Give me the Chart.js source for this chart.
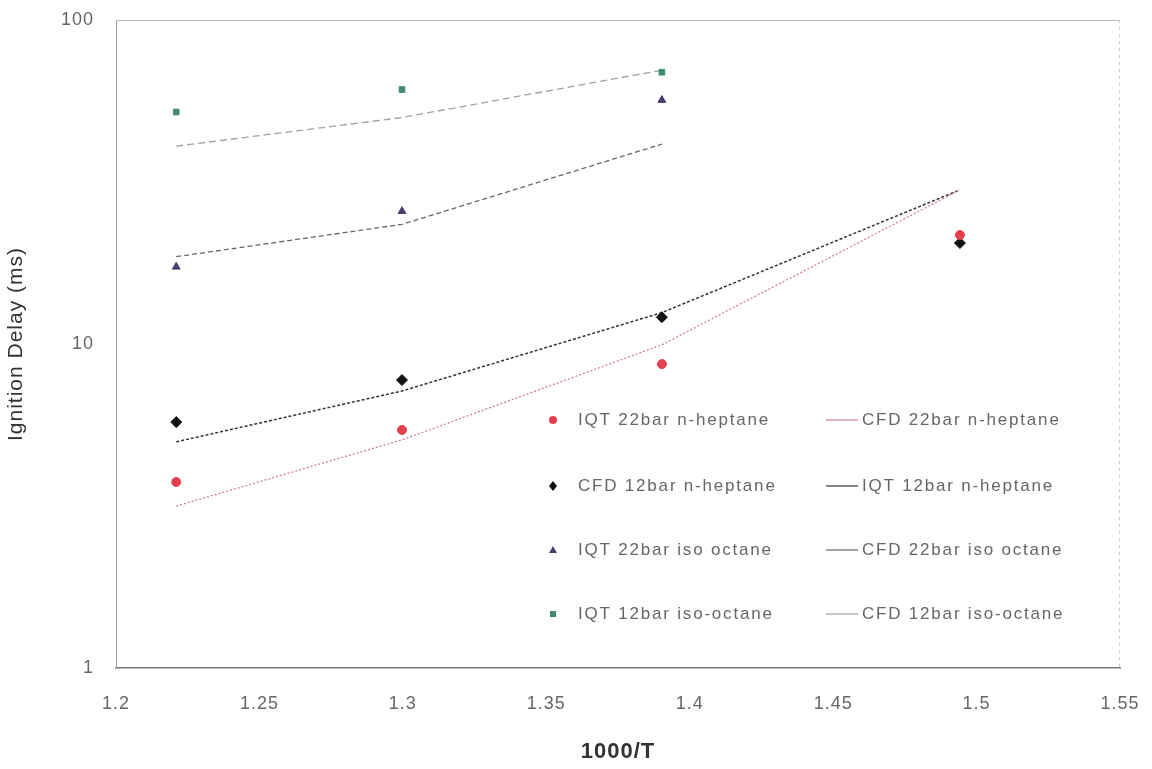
<!DOCTYPE html>
<html>
<head>
<meta charset="utf-8">
<script src="https://cdn.jsdelivr.net/npm/chart.js@4"></script>
<style>
  html, body { margin: 0; padding: 0; background: #fff; }
  #wrap { width: 1152px; height: 769px; }
</style>
</head>
<body>
<div id="wrap"><canvas id="delayChart" width="1152" height="769"></canvas></div>
<script>
// data
const invT = [1.221, 1.2997, 1.3903, 1.4942];
const invTIso = [1.221, 1.2997, 1.3903];

const iqt22Hep = [3.75, 5.43, 8.67, 21.7];
const cfd22Hep = [3.16, 5.06, 9.94, 29.9];
const cfd12Hep = [5.74, 7.74, 12.1, 20.5];
const iqt12Hep = [4.99, 7.16, 12.5, 29.9];
const iqt22Iso = [17.3, 25.7, 56.6];
const cfd22Iso = [18.6, 23.4, 41.4];
const iqt12Iso = [52, 61, 69];
const cfd12Iso = [40.8, 50, 70];

const xTicks = [1.2, 1.25, 1.3, 1.35, 1.4, 1.45, 1.5, 1.55];
const yTicks = [1, 10, 100];

function pts(xs, ys) {
  return ys.map((v, i) => ({ x: xs[i], y: v }));
}

Chart.defaults.font.family = "'Liberation Sans', Arial, sans-serif";
Chart.defaults.color = "#666";

// legend drawn inside the plot, two columns
const legendRows = [
  [0, 1],
  [2, 3],
  [4, 5],
  [6, 7]
];

const spacing = {
  id: 'spacing',
  beforeLayout(chart) { chart.ctx.letterSpacing = '1px'; },
  beforeDraw(chart) { chart.ctx.letterSpacing = '1px'; }
};

const insideLegend = {
  id: 'insideLegend',
  afterDraw(chart) {
    const ctx = chart.ctx;
    const ds = chart.data.datasets;
    ctx.save();
    ctx.fillStyle = '#fff';
    ctx.fillRect(532, 398, 565, 240);
    ctx.font = "17px 'Liberation Sans', Arial, sans-serif";
    ctx.letterSpacing = '1.8px';
    ctx.textBaseline = 'middle';
    const rowY = [420, 486, 550, 614];
    legendRows.forEach((row, r) => {
      row.forEach((idx, c) => {
        const d = ds[idx];
        const y = rowY[r];
        const markX = c === 0 ? 553 : 842;
        const textX = c === 0 ? 578 : 862;
        if (d.showLine) {
          ctx.strokeStyle = d.borderColor;
          ctx.lineWidth = 1.2;
          ctx.beginPath();
          ctx.moveTo(markX - 16, y);
          ctx.lineTo(markX + 16, y);
          ctx.stroke();
        } else {
          const st = d.pointStyle;
          ctx.fillStyle = d.backgroundColor;
          ctx.beginPath();
          if (st === 'circle') {
            ctx.arc(markX, y, 4, 0, Math.PI * 2);
          } else if (st === 'rectRot') {
            ctx.moveTo(markX, y - 5); ctx.lineTo(markX + 4, y);
            ctx.lineTo(markX, y + 5); ctx.lineTo(markX - 4, y);
            ctx.closePath();
          } else if (st === 'triangle') {
            ctx.moveTo(markX, y - 4); ctx.lineTo(markX + 4, y + 3);
            ctx.lineTo(markX - 4, y + 3); ctx.closePath();
          } else {
            ctx.rect(markX - 3, y - 3, 6, 6);
          }
          ctx.fill();
        }
        ctx.fillStyle = '#666';
        ctx.fillText(d.label, textX, y);
      });
    });
    ctx.restore();
  }
};

const frame = {
  id: 'frame',
  beforeDatasetsDraw(chart) {
    const { ctx, chartArea: a } = chart;
    ctx.save();
    ctx.strokeStyle = '#bbb';
    ctx.lineWidth = 1;
    ctx.beginPath();
    ctx.moveTo(a.left, a.top + 0.5);
    ctx.lineTo(a.right, a.top + 0.5);
    ctx.stroke();
    ctx.setLineDash([3, 4]);
    ctx.strokeStyle = '#ccc';
    ctx.beginPath();
    ctx.moveTo(a.right - 0.5, a.top);
    ctx.lineTo(a.right - 0.5, a.bottom);
    ctx.stroke();
    ctx.restore();
  }
};

new Chart(document.getElementById('delayChart'), {
  type: 'scatter',
  data: {
    datasets: [
      { label: 'IQT 22bar n-heptane', data: pts(invT, iqt22Hep), pointStyle: 'circle',
        backgroundColor: '#e5404f', borderColor: '#e5404f', pointRadius: 4.5, showLine: false },
      { label: 'CFD 22bar n-heptane', data: pts(invT, cfd22Hep), showLine: true, pointRadius: 0,
        borderColor: '#d47f8c', borderWidth: 1.3, borderDash: [2, 2], backgroundColor: '#d47f8c' },
      { label: 'CFD 12bar n-heptane', data: pts(invT, cfd12Hep), pointStyle: 'rectRot',
        backgroundColor: '#111', borderColor: '#111', pointRadius: 5.5, showLine: false },
      { label: 'IQT 12bar n-heptane', data: pts(invT, iqt12Hep), showLine: true, pointRadius: 0,
        borderColor: '#333', borderWidth: 1.5, borderDash: [3, 2], backgroundColor: '#333' },
      { label: 'IQT 22bar iso octane', data: pts(invTIso, iqt22Iso), pointStyle: 'triangle',
        backgroundColor: '#4c3c6c', borderColor: '#4c3c6c', pointRadius: 4.5, showLine: false },
      { label: 'CFD 22bar iso octane', data: pts(invTIso, cfd22Iso), showLine: true, pointRadius: 0,
        borderColor: '#666', borderWidth: 1.3, borderDash: [5, 3], backgroundColor: '#666' },
      { label: 'IQT 12bar iso-octane', data: pts(invTIso, iqt12Iso), pointStyle: 'rect',
        backgroundColor: '#3f8a70', borderColor: '#3f8a70', pointRadius: 4, showLine: false },
      { label: 'CFD 12bar iso-octane', data: pts(invTIso, cfd12Iso), showLine: true, pointRadius: 0,
        borderColor: '#9aa2aa', borderWidth: 1.3, borderDash: [7, 4], backgroundColor: '#9aa2aa' }
    ]
  },
  options: {
    responsive: false,
    animation: false,
    layout: { padding: { top: 20, right: 32, left: 0, bottom: 0 } },
    plugins: {
      legend: { display: false },
      tooltip: { enabled: false }
    },
    scales: {
      x: {
        type: 'linear',
        min: 1.2,
        max: 1.55,
        afterFit(scale) {
          scale.height = 101;
          scale.paddingLeft = 0;
          scale.paddingRight = 0;
        },
        afterBuildTicks(scale) { scale.ticks = xTicks.map(v => ({ value: v })); },
        grid: { display: false, drawTicks: false },
        border: { color: '#777', width: 1.5 },
        ticks: {
          padding: 25,
          font: { size: 18 },
          color: '#666',
          callback: v => String(v)
        },
        title: {
          display: true,
          text: '1000/T',
          font: { size: 22, weight: 'bold' },
          color: '#333',
          padding: { top: 0 }
        }
      },
      y: {
        type: 'logarithmic',
        min: 1,
        max: 100,
        afterFit(scale) {
          scale.width = 116;
          scale.paddingTop = 0;
          scale.paddingBottom = 0;
        },
        afterBuildTicks(scale) { scale.ticks = yTicks.map(v => ({ value: v })); },
        grid: { display: false, drawTicks: false },
        border: { color: '#999', width: 1 },
        ticks: {
          padding: 22,
          font: { size: 18 },
          color: '#666',
          callback: v => String(v)
        },
        title: {
          display: true,
          text: 'Ignition Delay (ms)',
          font: { size: 21 },
          color: '#333',
          padding: { bottom: 2 }
        }
      }
    }
  },
  plugins: [spacing, frame, insideLegend]
});
</script>
</body>
</html>
